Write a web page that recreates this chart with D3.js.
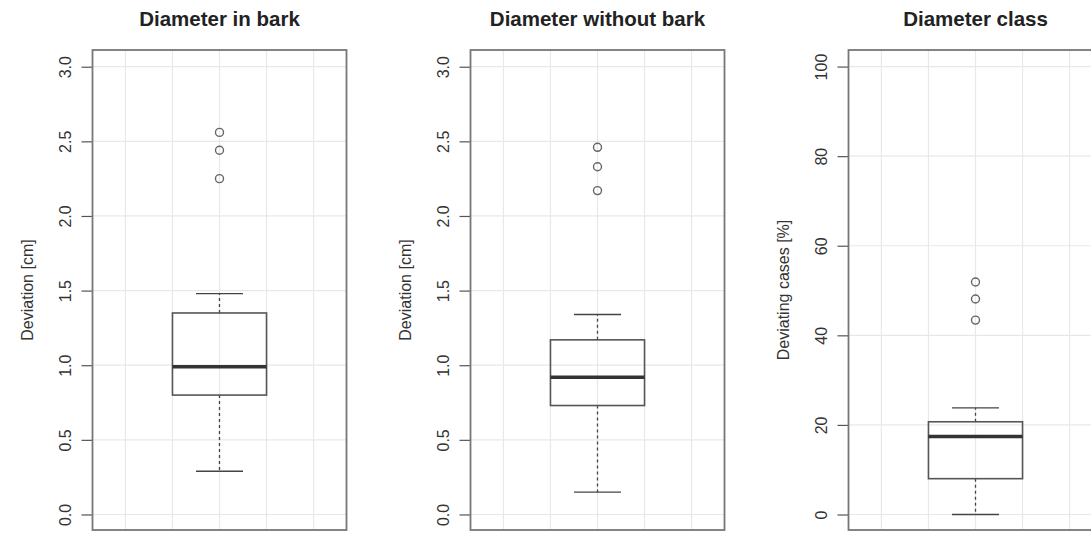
<!DOCTYPE html>
<html>
<head>
<meta charset="utf-8">
<script src="https://cdn.jsdelivr.net/npm/d3@7"></script>
<style>
  body { margin: 0; background: #fff; }
  svg { font-family: "Liberation Sans", Arial, sans-serif; }
</style>
</head>
<body>
<script>
  const titles = ['Diameter in bark', 'Diameter without bark', 'Diameter class'];
  const yLabels = ['Deviation [cm]', 'Deviation [cm]', 'Deviating cases [%]'];
  const lowerWhisker = [0.29, 0.15, 0];
  const q1 = [0.80, 0.73, 8.0];
  const medians = [0.99, 0.92, 17.4];
  const q3 = [1.35, 1.17, 20.7];
  const upperWhisker = [1.48, 1.34, 23.8];
  const outliers = [[2.25, 2.44, 2.56], [2.17, 2.33, 2.46], [43.4, 48.1, 51.9]];
  const yTicks = [
    [0, 0.5, 1.0, 1.5, 2.0, 2.5, 3.0],
    [0, 0.5, 1.0, 1.5, 2.0, 2.5, 3.0],
    [0, 20, 40, 60, 80, 100]
  ];
  const yDomains = [[-0.104, 3.112], [-0.104, 3.112], [-3.46, 103.7]];
  const tickFormats = [d3.format('.1f'), d3.format('.1f'), d3.format('d')];
  const xGrid = [0.6, 0.8, 1.0, 1.2, 1.4];

  const width = 1091;
  const height = 534;
  const panelWidth = 378;
  const plot = { left: 92.5, right: 346.5, top: 50, bottom: 530 };

  const svg = d3.select('body')
          .append('svg')
          .attr('width', width)
          .attr('height', height);

  const x = d3.scaleLinear().domain([0.46, 1.54]).range([plot.left, plot.right]);

  titles.forEach((title, i) => {
    const g = svg.append('g').attr('transform', `translate(${i * panelWidth},0)`);
    const y = d3.scaleLinear().domain(yDomains[i]).range([plot.bottom, plot.top]);

    // grid
    g.append('g').selectAll('line.vg')
            .data(xGrid)
            .enter()
            .append('line')
            .attr('x1', d => x(d)).attr('x2', d => x(d))
            .attr('y1', plot.top).attr('y2', plot.bottom)
            .attr('stroke', '#e8e8e8')
            .attr('stroke-width', 1.2);
    g.append('g').selectAll('line.hg')
            .data(yTicks[i])
            .enter()
            .append('line')
            .attr('x1', plot.left).attr('x2', plot.right)
            .attr('y1', d => y(d)).attr('y2', d => y(d))
            .attr('stroke', '#e8e8e8')
            .attr('stroke-width', 1.2);

    // y axis
    const axis = g.append('g')
            .attr('transform', `translate(${plot.left},0)`)
            .call(d3.axisLeft(y).tickValues(yTicks[i]).tickFormat(tickFormats[i]).tickSize(11).tickPadding(0));
    axis.select('.domain').remove();
    axis.selectAll('.tick line').attr('stroke', '#555').attr('stroke-width', 1.2);
    axis.selectAll('.tick text')
            .attr('transform', 'rotate(-90)')
            .attr('x', 0)
            .attr('y', -22)
            .attr('dy', 0)
            .attr('text-anchor', 'middle')
            .attr('fill', '#333')
            .attr('font-size', '16px')
            .attr('font-family', '"Liberation Sans", Arial, sans-serif');

    // frame
    g.append('rect')
            .attr('x', plot.left).attr('y', plot.top)
            .attr('width', plot.right - plot.left)
            .attr('height', plot.bottom - plot.top)
            .attr('fill', 'none')
            .attr('stroke', '#777')
            .attr('stroke-width', 1.8);

    const cx = x(1);

    // whiskers
    g.append('line')
            .attr('x1', cx).attr('x2', cx)
            .attr('y1', y(q3[i])).attr('y2', y(upperWhisker[i]))
            .attr('stroke', '#444').attr('stroke-width', 1.3)
            .attr('stroke-dasharray', '3,3');
    g.append('line')
            .attr('x1', cx).attr('x2', cx)
            .attr('y1', y(q1[i])).attr('y2', y(lowerWhisker[i]))
            .attr('stroke', '#444').attr('stroke-width', 1.3)
            .attr('stroke-dasharray', '3,3');
    [lowerWhisker[i], upperWhisker[i]].forEach(v => {
      g.append('line')
              .attr('x1', x(0.9)).attr('x2', x(1.1))
              .attr('y1', y(v)).attr('y2', y(v))
              .attr('stroke', '#444').attr('stroke-width', 1.4);
    });

    // box
    g.append('rect')
            .attr('x', x(0.8)).attr('y', y(q3[i]))
            .attr('width', x(1.2) - x(0.8))
            .attr('height', y(q1[i]) - y(q3[i]))
            .attr('fill', 'none')
            .attr('stroke', '#555')
            .attr('stroke-width', 1.6);
    g.append('line')
            .attr('x1', x(0.8)).attr('x2', x(1.2))
            .attr('y1', y(medians[i])).attr('y2', y(medians[i]))
            .attr('stroke', '#333')
            .attr('stroke-width', 3.5);

    // outliers
    g.append('g').selectAll('circle')
            .data(outliers[i])
            .enter()
            .append('circle')
            .attr('cx', cx)
            .attr('cy', d => y(d))
            .attr('r', 4)
            .attr('fill', 'none')
            .attr('stroke', '#666')
            .attr('stroke-width', 1.4);

    // title
    g.append('text')
            .attr('x', cx)
            .attr('y', 26)
            .attr('text-anchor', 'middle')
            .attr('font-weight', 'bold')
            .attr('font-size', '20.5px')
            .attr('fill', '#222')
            .text(title);

    // y label
    g.append('text')
            .attr('transform', `translate(33,${(plot.top + plot.bottom) / 2}) rotate(-90)`)
            .attr('text-anchor', 'middle')
            .attr('font-size', '16px')
            .attr('fill', '#333')
            .text(yLabels[i]);
  });
</script>
</body>
</html>
